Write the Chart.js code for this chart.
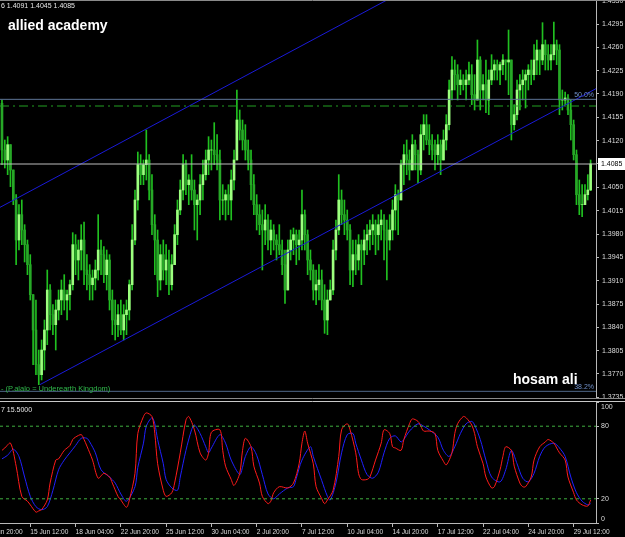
<!DOCTYPE html>
<html>
<head>
<meta charset="utf-8">
<script src="https://cdn.jsdelivr.net/npm/chart.js@4.4.0/dist/chart.umd.min.js"></script>
<style>
html, body { margin: 0; padding: 0; background: #000; width: 625px; height: 537px; overflow: hidden; }
#main { position: absolute; left: 0; top: 0; }
#stoch { position: absolute; left: 0; top: 396px; }
</style>
</head>
<body>
<canvas id="main" width="625" height="405"></canvas>
<canvas id="stoch" width="625" height="141"></canvas>
<script>
// H4 bars
var firstOpen = 1.4176;
var highs = [
  1.4181,1.4121,1.4126,1.4114,1.4076,1.4039,1.4024,1.4031,1.3994,1.3971,
  1.3949,1.3889,1.3881,1.3806,1.3821,1.3851,1.3926,1.3904,1.3874,1.3881,
  1.3896,1.3911,1.3919,1.3896,1.3911,1.3982,1.3979,1.3971,1.3994,1.3998,
  1.3949,1.3934,1.3926,1.3941,1.4009,1.3971,1.3961,1.3956,1.3949,1.3896,
  1.3881,1.3874,1.3881,1.3874,1.3881,1.3911,1.3994,1.4046,1.4103,1.4099,
  1.4091,1.4136,1.4099,1.4069,1.4009,1.3986,1.3964,1.3971,1.3964,1.3956,
  1.3949,1.3994,1.4031,1.4061,1.4099,1.4091,1.4069,1.4099,1.4061,1.4039,
  1.4069,1.4091,1.4106,1.4126,1.4121,1.4147,1.4129,1.4106,1.4054,1.4046,
  1.4054,1.4076,1.4106,1.4196,1.4166,1.4151,1.4144,1.4121,1.4106,1.4069,
  1.4039,1.4024,1.4016,1.4024,1.4009,1.4001,1.3994,1.3979,1.3994,1.3971,
  1.3956,1.3971,1.3986,1.3989,1.3986,1.3986,1.4046,1.4016,1.3986,1.3956,
  1.3934,1.3926,1.3934,1.3926,1.3904,1.3896,1.3911,1.3971,1.4001,1.4069,
  1.4046,1.4031,1.4016,1.3994,1.3971,1.3971,1.3979,1.3971,1.3986,1.3994,
  1.4001,1.4009,1.4001,1.4009,1.4016,1.4009,1.4001,1.4009,1.4031,1.4054,
  1.4046,1.4091,1.4114,1.4121,1.4106,1.4129,1.4121,1.4106,1.4144,1.4159,
  1.4159,1.4144,1.4129,1.4121,1.4129,1.4121,1.4136,1.4159,1.4211,1.4246,
  1.4241,1.4234,1.4226,1.4219,1.4226,1.4238,1.4234,1.4219,1.4271,1.4246,
  1.4219,1.4241,1.4226,1.4249,1.4241,1.4241,1.4238,1.4249,1.4241,1.4286,
  1.4241,1.4174,1.4211,1.4219,1.4226,1.4226,1.4234,1.4241,1.4264,1.4271,
  1.4256,1.4297,1.4271,1.4264,1.4264,1.4298,1.4271,1.4264,1.4196,1.4193,
  1.4189,1.4181,1.4151,1.4106,1.4061,1.4054,1.4054,1.4069,1.4091
];
var lows = [
  1.4084,1.4079,1.4069,1.4051,1.4024,1.3934,1.3956,1.3964,1.3938,1.3919,
  1.3881,1.3784,1.3769,1.3754,1.3761,1.3776,1.3814,1.3836,1.3829,1.3806,
  1.3851,1.3859,1.3866,1.3851,1.3866,1.3896,1.3919,1.3911,1.3926,1.3904,
  1.3896,1.3881,1.3881,1.3896,1.3911,1.3919,1.3907,1.3896,1.3866,1.3829,
  1.3821,1.3826,1.3829,1.3821,1.3829,1.3851,1.3896,1.3964,1.4016,1.4054,
  1.4054,1.4061,1.4031,1.3979,1.3919,1.3886,1.3896,1.3911,1.3904,1.3889,
  1.3896,1.3934,1.3964,1.4009,1.4031,1.4039,1.4024,1.4031,1.3986,1.3971,
  1.4009,1.4031,1.4061,1.4069,1.4076,1.4084,1.4076,1.4001,1.4009,1.4001,
  1.4009,1.4001,1.4046,1.4091,1.4121,1.4106,1.4091,1.4076,1.4031,1.4009,
  1.3986,1.3979,1.3926,1.3964,1.3956,1.3949,1.3956,1.3941,1.3949,1.3919,
  1.3876,1.3896,1.3941,1.3949,1.3934,1.3941,1.3956,1.3956,1.3919,1.3911,
  1.3881,1.3874,1.3881,1.3866,1.3831,1.3829,1.3881,1.3889,1.3941,1.3979,
  1.3994,1.3979,1.3971,1.3904,1.3901,1.3919,1.3926,1.3904,1.3934,1.3949,
  1.3956,1.3964,1.3949,1.3956,1.3971,1.3941,1.3911,1.3956,1.3971,1.3986,
  1.3979,1.4031,1.4054,1.4069,1.4061,1.4076,1.4076,1.4057,1.4069,1.4106,
  1.4114,1.4099,1.4091,1.4076,1.4084,1.4069,1.4091,1.4106,1.4136,1.4181,
  1.4196,1.4181,1.4189,1.4196,1.4181,1.4204,1.4174,1.4166,1.4181,1.4166,
  1.4181,1.4162,1.4159,1.4204,1.4211,1.4211,1.4204,1.4219,1.4211,1.4189,
  1.4121,1.4136,1.4151,1.4166,1.4181,1.4169,1.4196,1.4204,1.4211,1.4219,
  1.4219,1.4234,1.4226,1.4226,1.4226,1.4241,1.4234,1.4159,1.4166,1.4174,
  1.4159,1.4121,1.4091,1.4024,1.4009,1.4006,1.4024,1.4031,1.4045
];
var closes = [
  1.4106,1.4091,1.4114,1.4076,1.4031,1.3971,1.4009,1.3986,1.3964,1.3934,
  1.3889,1.3836,1.3784,1.3769,1.3806,1.3836,1.3896,1.3859,1.3844,1.3866,
  1.3881,1.3896,1.3881,1.3889,1.3904,1.3964,1.3941,1.3956,1.3971,1.3926,
  1.3919,1.3904,1.3914,1.3926,1.3956,1.3949,1.3919,1.3941,1.3881,1.3851,
  1.3844,1.3859,1.3836,1.3859,1.3866,1.3904,1.3971,1.4031,1.4084,1.4069,
  1.4084,1.4091,1.4046,1.3994,1.3971,1.3911,1.3949,1.3926,1.3941,1.3904,
  1.3934,1.3979,1.4016,1.4046,1.4084,1.4054,1.4061,1.4046,1.4024,1.4031,
  1.4054,1.4069,1.4091,1.4106,1.4106,1.4099,1.4091,1.4031,1.4031,1.4039,
  1.4031,1.4061,1.4091,1.4151,1.4136,1.4121,1.4106,1.4091,1.4054,1.4024,
  1.4009,1.3994,1.3986,1.4001,1.3971,1.3986,1.3971,1.3964,1.3956,1.3934,
  1.3896,1.3956,1.3971,1.3979,1.3964,1.3971,1.4009,1.3979,1.3941,1.3926,
  1.3896,1.3904,1.3911,1.3881,1.3851,1.3881,1.3896,1.3956,1.3986,1.4031,
  1.4009,1.4001,1.3986,1.3926,1.3949,1.3941,1.3964,1.3956,1.3971,1.3979,
  1.3986,1.3994,1.3979,1.3994,1.4001,1.3986,1.3971,1.3986,1.4016,1.4039,
  1.4031,1.4084,1.4099,1.4091,1.4076,1.4114,1.4099,1.4076,1.4129,1.4144,
  1.4121,1.4114,1.4106,1.4099,1.4114,1.4091,1.4121,1.4144,1.4196,1.4226,
  1.4219,1.4204,1.4211,1.4204,1.4211,1.4219,1.4189,1.4181,1.4241,1.4196,
  1.4204,1.4181,1.4211,1.4226,1.4234,1.4226,1.4234,1.4241,1.4238,1.4241,
  1.4144,1.4159,1.4196,1.4204,1.4211,1.4219,1.4226,1.4219,1.4241,1.4256,
  1.4241,1.4264,1.4249,1.4241,1.4249,1.4264,1.4256,1.4181,1.4181,1.4184,
  1.4166,1.4144,1.4099,1.4039,1.4024,1.4024,1.4039,1.4046,1.4085
];

// Stochastic: [bar, value]
var stochK = [
  [0,60],[1,62],[3,66],[5,47],[7,22],[9,18],[10,15],[12,9],[13,10],[14,11],[16,19],[17,33],[19,52],[20,53],
  [22,60],[24,64],[25,69],[26,71],[28,73],[29,69],[31,58],[32,52],[34,37],[36,41],[38,38],[39,33],[41,22],
  [42,19],[44,13],[45,19],[47,41],[48,74],[50,88],[51,91],[53,88],[54,74],[55,49],[57,27],[58,22],[60,25],
  [61,33],[63,58],[65,85],[66,88],[68,77],[70,58],[72,52],[73,58],[74,75],[77,77],[78,60],[79,47],[81,36],
  [82,31],[84,41],[85,60],[86,70],[88,63],[89,47],[91,33],[92,22],[94,16],[95,18],[96,25],[98,30],[101,29],
  [103,33],[105,49],[106,66],[107,76],[108,66],[110,49],[111,30],[113,20],[114,16],[115,19],[117,27],[119,55],
  [120,77],[122,82],[123,77],[125,58],[126,41],[127,36],[129,36],[130,38],[132,52],[134,66],[135,77],[137,74],
  [138,63],[139,62],[141,60],[142,69],[144,82],[145,86],[147,84],[148,80],[149,76],[151,76],[153,74],[154,60],
  [156,51],[157,48],[159,58],[160,74],[161,82],[163,88],[164,87],[166,81],[167,74],[168,63],[170,49],[171,38],
  [173,29],[174,30],[176,44],[177,55],[178,63],[180,60],[181,47],[183,33],[184,30],[185,30],[187,38],[188,52],
  [190,63],[192,67],[193,69],[195,66],[196,62],[197,58],[199,52],[200,38],[202,25],[203,19],[205,15],[207,14],[208,19]
];
var stochD = [
  [0,53],[2,56],[4,61],[6,55],[8,38],[10,22],[12,13.5],[14,11],[16,13.5],[18,27],[20,44],[22,52],[24,58],
  [26,64],[28,70],[30,70],[31,67],[33,58],[35,44],[38,38],[40,33],[42,24],[44,18],[47,30],[48,46],[50,66],
  [51,80],[53,87],[54,82],[55,69],[57,49],[58,36],[60,29],[62,27],[63,38],[65,60],[67,77],[68,81],[70,74],
  [72,63],[73,58],[74,62],[77,73],[79,66],[81,52],[84,40],[85,46],[86,55],[88,63],[90,56],[92,40],[94,24],
  [96,20],[98,24],[101,29],[103,30],[104,37],[106,52],[109,63],[110,55],[113,35],[115,22],[116,19],[118,33],
  [120,58],[122,73],[124,74],[125,66],[127,52],[129,40],[131,37],[133,42],[135,58],[137,70],[139,72],[141,67],
  [142,69],[144,76],[147,82],[149,80],[151,77],[154,71],[156,60],[158,55],[160,63],[162,74],[164,82],[166,84],
  [167,81],[169,69],[171,52],[173,38],[176,34],[178,44],[180,60],[182,49],[184,37],[186,34],[188,41],[190,55],
  [192,63],[195,66],[197,62],[199,55],[201,38],[203,25],[205,18],[207,15],[208,16]
];
var stochLevels = [80, 20];
var stochTicks = [0, 20, 80, 100];

// objects drawn on the chart
var fib50 = 1.4182, fib38 = 1.3744, dashLevel = 1.4172;
var upperChannel = [[-0.7, 1.4020], [209.9, 1.4499]];
var lowerChannel = [[13.4, 1.3754], [209.9, 1.4198]];

var priceTicks = [1.4330,1.4295,1.4260,1.4225,1.4190,1.4155,1.4120,1.4085,1.4050,1.4015,
                  1.3980,1.3945,1.3910,1.3875,1.3840,1.3805,1.3770,1.3735];
var dateBars = [-6,10,26,42,58,74,90,106,122,138,154,170,186,202];
var dateLabels = ['11 Jun 20:00','15 Jun 12:00','18 Jun 04:00','22 Jun 20:00','25 Jun 12:00','30 Jun 04:00',
  '2 Jul 20:00','7 Jul 12:00','10 Jul 04:00','14 Jul 20:00','17 Jul 12:00','22 Jul 04:00','24 Jul 20:00','29 Jul 12:00'];

var xMin = -0.7, xMax = 209.9;
var fam = "'Liberation Sans', Arial, sans-serif";
var priceFont = { family: fam, size: 7 };
var dateFont = { family: fam, size: 6.6 };
var axisGrey = '#b8b8b8';
var labelGrey = '#dcdcdc';

var opens = closes.map(function (c, i) { return i === 0 ? firstOpen : closes[i - 1]; });
var last = closes.length - 1;

function level(v) { return [{ x: xMin, y: v }, { x: xMax, y: v }]; }
function pts(arr) { return arr.map(function (p) { return { x: p[0], y: p[1] }; }); }

var mainDecor = {
  id: 'mainDecor',
  afterDraw: function (chart) {
    var c = chart.ctx, a = chart.chartArea;
    c.save();
    c.strokeStyle = '#8a8a8a';
    c.lineWidth = 1;
    c.beginPath();
    c.moveTo(0, 0.5); c.lineTo(625, 0.5);
    c.moveTo(0, a.bottom + 0.5); c.lineTo(625, a.bottom + 0.5);
    c.stroke();

    c.textBaseline = 'alphabetic';
    c.font = "7px " + fam;
    c.fillStyle = '#e6e6e6';
    c.textAlign = 'left';
    c.fillText('6 1.4091 1.4045 1.4085', 1, 8);

    c.fillStyle = '#2fb84a';
    c.font = "7.5px " + fam;
    c.fillText('- (P.alalo = Underearth Kingdom)', 1, 391);

    c.fillStyle = '#6f8fc8';
    c.textAlign = 'right';
    c.font = "7px " + fam;
    c.fillText('50.0%', 594, 97);
    c.fillText('38.2%', 594, 389);

    c.fillStyle = '#ffffff';
    c.textAlign = 'left';
    c.font = "bold 14px " + fam;
    c.fillText('allied academy', 8, 30);
    c.fillText('hosam ali', 513, 384);

    // current price tag
    var py = chart.scales.y.getPixelForValue(closes[last]);
    c.fillStyle = '#ffffff';
    c.fillRect(598, Math.round(py) - 6, 27, 12);
    c.fillStyle = '#000000';
    c.font = "7px " + fam;
    c.textBaseline = 'middle';
    c.fillText(closes[last].toFixed(4), 601, py + 0.5);
    c.restore();
  }
};

new Chart(document.getElementById('main'), {
  type: 'bar',
  data: {
    datasets: [{
      type: 'line', label: 'fib50', data: level(fib50), borderColor: '#5d7496', borderWidth: 1, pointRadius: 0, order: 0
    }, {
      type: 'line', label: 'dash', data: level(dashLevel), borderColor: '#23a023', borderWidth: 1,
      borderDash: [9, 4, 2, 4], pointRadius: 0, order: 0
    }, {
      type: 'line', label: 'price', data: level(closes[last]), borderColor: '#bdbdbd', borderWidth: 1, pointRadius: 0, order: 0
    }, {
      type: 'line', label: 'fib38', data: level(fib38), borderColor: '#4f6788', borderWidth: 1, pointRadius: 0, order: 0
    }, {
      type: 'line', label: 'upper', data: pts(upperChannel), borderColor: '#1a1ad8', borderWidth: 1, pointRadius: 0, order: 0
    }, {
      type: 'line', label: 'lower', data: pts(lowerChannel), borderColor: '#1a1ad8', borderWidth: 1, pointRadius: 0, order: 0
    }, {
      label: 'body',
      data: closes.map(function (c, i) { return { x: i, y: [opens[i], c] }; }),
      backgroundColor: function (ctx) {
        var i = ctx.dataIndex;
        return closes[i] >= opens[i] ? '#9cff7e' : '#27a827';
      },
      barThickness: 2, borderWidth: 0, grouped: false, order: 1
    }, {
      label: 'wick',
      data: highs.map(function (h, i) { return { x: i, y: [lows[i], h] }; }),
      backgroundColor: '#20c020',
      barThickness: 1, borderWidth: 0, grouped: false, order: 2
    }]
  },
  options: {
    responsive: false,
    animation: false,
    layout: { padding: { left: 0, top: 0, right: 0, bottom: 7 } },
    plugins: { legend: { display: false }, tooltip: { enabled: false } },
    scales: {
      x: { type: 'linear', min: xMin, max: xMax, offset: false, display: false, grid: { offset: false } },
      y: {
        position: 'right', min: 1.3734, max: 1.4331, beginAtZero: false,
        afterBuildTicks: function (s) { s.ticks = priceTicks.map(function (v) { return { value: v }; }); },
        afterFit: function (s) { s.width = 29; s.paddingTop = 0; s.paddingBottom = 0; },
        grid: { drawOnChartArea: false, color: axisGrey, tickLength: 3 },
        border: { color: axisGrey },
        ticks: { color: labelGrey, font: priceFont, padding: 3, autoSkip: false,
                 callback: function (v) { return v.toFixed(4); } }
      }
    }
  },
  plugins: [mainDecor]
});

var stochDecor = {
  id: 'stochDecor',
  afterDraw: function (chart) {
    var c = chart.ctx, a = chart.chartArea, ys = chart.scales.y;
    c.save();
    c.strokeStyle = '#c8c8c8';
    c.lineWidth = 1;
    c.beginPath();
    c.moveTo(0, a.top - 0.5); c.lineTo(625, a.top - 0.5);
    c.stroke();
    c.font = "7px " + fam;
    c.fillStyle = '#e6e6e6';
    c.textBaseline = 'alphabetic';
    c.fillText('7 15.5000', 1, 16);
    // level labels, kept inside the panel as the terminal does
    c.fillStyle = labelGrey;
    c.textBaseline = 'middle';
    stochTicks.forEach(function (v) {
      var py = Math.min(Math.max(ys.getPixelForValue(v), a.top + 5), a.bottom - 4);
      c.fillText(String(v), a.right + 5, py);
    });
    c.restore();
  }
};

new Chart(document.getElementById('stoch'), {
  type: 'line',
  data: {
    datasets: [{
      label: '80', data: level(stochLevels[0]), borderColor: '#3fae3f', borderWidth: 1, borderDash: [3, 3], pointRadius: 0
    }, {
      label: '20', data: level(stochLevels[1]), borderColor: '#3fae3f', borderWidth: 1, borderDash: [3, 3], pointRadius: 0
    }, {
      label: '%K', data: pts(stochK), borderColor: '#ff1a1a', borderWidth: 1, pointRadius: 0, tension: 0.3
    }, {
      label: '%D', data: pts(stochD), borderColor: '#2020ff', borderWidth: 1, pointRadius: 0, tension: 0.3
    }]
  },
  options: {
    responsive: false,
    animation: false,
    layout: { padding: { left: 0, top: 6, right: 0, bottom: 0 } },
    plugins: { legend: { display: false }, tooltip: { enabled: false } },
    scales: {
      x: {
        type: 'linear', min: xMin, max: xMax, offset: false,
        afterBuildTicks: function (s) { s.ticks = dateBars.map(function (v) { return { value: v }; }); },
        afterFit: function (s) { s.height = 14; s.paddingLeft = 0; s.paddingRight = 0; },
        grid: { drawOnChartArea: false, color: axisGrey, tickLength: 4 },
        border: { color: axisGrey },
        ticks: { color: labelGrey, font: dateFont, padding: 1, autoSkip: false, maxRotation: 0, align: 'start',
                 callback: function (v, i) { return dateLabels[i]; } }
      },
      y: {
        position: 'right', min: 0, max: 100,
        afterBuildTicks: function (s) { s.ticks = stochTicks.map(function (v) { return { value: v }; }); },
        afterFit: function (s) { s.width = 29; s.paddingTop = 0; s.paddingBottom = 0; },
        grid: { drawOnChartArea: false, color: axisGrey, tickLength: 3 },
        border: { color: axisGrey },
        ticks: { display: false }
      }
    }
  },
  plugins: [stochDecor]
});
</script>
</body>
</html>
